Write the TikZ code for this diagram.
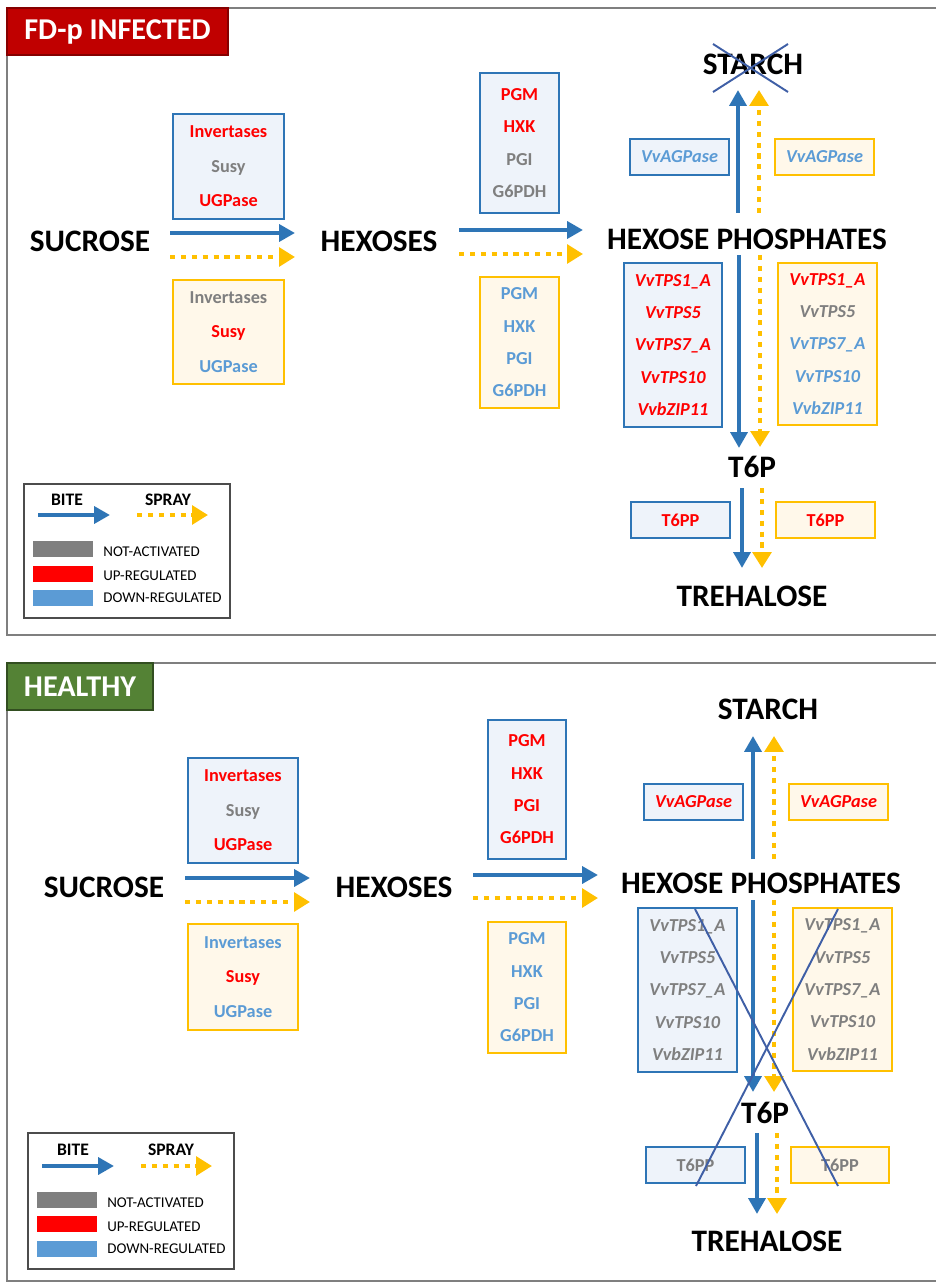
\documentclass[tikz,border=0pt]{standalone}
\usepackage{fontspec}
\setmainfont{Carlito}
\usetikzlibrary{arrows.meta}

\definecolor{bitecol}{HTML}{2E75B6}
\definecolor{spraycol}{HTML}{FFC000}
\definecolor{upcol}{HTML}{FF0000}
\definecolor{nacol}{HTML}{7F7F7F}
\definecolor{downcol}{HTML}{5B9BD5}
\definecolor{bitefill}{HTML}{EEF3FA}
\definecolor{sprayfill}{HTML}{FFF8EA}
\definecolor{crosscol}{HTML}{3F5FA6}
\definecolor{infred}{HTML}{C00000}
\definecolor{healthgreen}{HTML}{548235}
\definecolor{framecol}{HTML}{7F7F7F}

\newcommand{\upreg}[1]{\textcolor{upcol}{#1}}
\newcommand{\notact}[1]{\textcolor{nacol}{#1}}
\newcommand{\downreg}[1]{\textcolor{downcol}{#1}}

\begin{document}
\begin{tikzpicture}[
 x=0.02cm, y=-0.02cm,
 metab/.style={inner sep=0pt, font=\fontsize{17.8}{20}\selectfont\bfseries},
 bitebox/.style={draw=bitecol, fill=bitefill, line width=1.1pt, align=center, inner sep=0pt,
   font=\fontsize{10.4}{18.4}\selectfont\bfseries},
 spraybox/.style={bitebox, draw=spraycol, fill=sprayfill},
 invbox/.style={font=\fontsize{10.4}{19.6}\selectfont\bfseries},
 bite/.style={draw=bitecol, line width=2.8pt, -{Triangle[length=9pt,width=9.5pt]}},
 spray/.style={draw=spraycol, line width=2.8pt, dash pattern=on 2.9pt off 3.3pt,
   -{Triangle[length=9pt,width=10.5pt]}},
 cross/.style={draw=crosscol, line width=1.1pt},
 frame/.style={draw=framecol, line width=0.9pt},
 title/.style={text=white, inner sep=0pt, line width=0.6pt, font=\fontsize{17.2}{20}\selectfont\bfseries,
   minimum height=0.94cm},
 legbox/.style={draw=black!70, fill=white, line width=0.9pt},
 swatch/.style={minimum width=1.2cm, minimum height=0.32cm, inner sep=0pt},
 legtext/.style={anchor=west, inner sep=0pt, font=\fontsize{8.5}{10}\selectfont},
 leghead/.style={inner sep=0pt, font=\fontsize{10}{12}\selectfont\bfseries}
]
\useasboundingbox (0,0) rectangle (936,1283);

% ---------------- FD-p infected ----------------
\draw [frame] (936,8) -- (7,8) -- (7,635) -- (936,635);
\node (title1) [title, fill=infred, draw=infred!70!black, minimum width=4.42cm] at (117.5,31.5) {FD-p INFECTED};

\node (suc1) [metab] at (90,241) {SUCROSE};
\node (hex1) [metab] at (379,241) {HEXOSES};
\node (hp1) [metab] at (747,239) {HEXOSE PHOSPHATES};
\node (st1) [metab] at (753,64) {STARCH};
\node (t6p1) [metab] at (752,467) {T6P};
\node (tre1) [metab] at (752,596) {TREHALOSE};

\node (inv-bite1) [bitebox, invbox, minimum width=2.22cm, minimum height=2.1cm] at (228.5,166.5)
 {\upreg{Invertases}\\\notact{Susy}\\\upreg{UGPase}};
\node (inv-spray1) [spraybox, invbox, minimum width=2.22cm, minimum height=2.08cm] at (228.5,332)
 {\notact{Invertases}\\\upreg{Susy}\\\downreg{UGPase}};
\node (pgm-bite1) [bitebox, minimum width=1.58cm, minimum height=2.8cm] at (519.5,143)
 {\upreg{PGM}\\\upreg{HXK}\\\notact{PGI}\\\notact{G6PDH}};
\node (pgm-spray1) [spraybox, minimum width=1.58cm, minimum height=2.62cm] at (519.5,342.5)
 {\downreg{PGM}\\\downreg{HXK}\\\downreg{PGI}\\\downreg{G6PDH}};
\node (agp-bite1) [bitebox, minimum width=1.98cm, minimum height=0.72cm] at (679.5,157)
 {\itshape\downreg{VvAGPase}};
\node (agp-spray1) [spraybox, minimum width=1.98cm, minimum height=0.72cm] at (824.5,157)
 {\itshape\downreg{VvAGPase}};
\node (tps-bite1) [bitebox, minimum width=1.96cm, minimum height=3.28cm] at (673,345)
 {\itshape\upreg{VvTPS1\_A}\\\itshape\upreg{VvTPS5}\\\itshape\upreg{VvTPS7\_A}\\
  \itshape\upreg{VvTPS10}\\\itshape\upreg{VvbZIP11}};
\node (tps-spray1) [spraybox, minimum width=1.98cm, minimum height=3.24cm] at (827.5,344)
 {\itshape\upreg{VvTPS1\_A}\\\itshape\notact{VvTPS5}\\\itshape\downreg{VvTPS7\_A}\\
  \itshape\downreg{VvTPS10}\\\itshape\downreg{VvbZIP11}};
\node (t6pp-bite1) [bitebox, minimum width=1.98cm, minimum height=0.72cm] at (680.5,520) {\upreg{T6PP}};
\node (t6pp-spray1) [spraybox, minimum width=1.98cm, minimum height=0.72cm] at (825.5,520) {\upreg{T6PP}};

\draw [bite] ([shift={(80,-8)}]suc1.center) -- ([shift={(-84,-8)}]hex1.center);
\draw [spray] ([shift={(80,16)}]suc1.center) -- ([shift={(-84,16)}]hex1.center);
\draw [bite] ([shift={(80,-11)}]hex1.center) -- ([shift={(-164,-9)}]hp1.center);
\draw [spray] ([shift={(80,13)}]hex1.center) -- ([shift={(-164,15)}]hp1.center);
\draw [bite] ([shift={(-9,-26)}]hp1.center) -- ([shift={(-15,26)}]st1.center);
\draw [spray] ([shift={(12,-26)}]hp1.center) -- ([shift={(6,26)}]st1.center);
\draw [bite] ([shift={(-8,16)}]hp1.center) -- ([shift={(-13,-19)}]t6p1.center);
\draw [spray] ([shift={(13,16)}]hp1.center) -- ([shift={(8,-20)}]t6p1.center);
\draw [bite] ([shift={(-10,21)}]t6p1.center) -- ([shift={(-10,-28)}]tre1.center);
\draw [spray] ([shift={(10,21)}]t6p1.center) -- ([shift={(10,-28)}]tre1.center);

% starch crossed out
\draw [cross] ([shift={(-40,-20)}]st1.center) -- ([shift={(35,28)}]st1.center);
\draw [cross] ([shift={(-40,28)}]st1.center) -- ([shift={(35,-20)}]st1.center);

% legend
\node (leg1) [legbox, minimum width=4.12cm, minimum height=2.68cm] at (127,551) {};
\node (bite-lbl1) [leghead] at (67,500) {BITE};
\node (spray-lbl1) [leghead] at (168,500) {SPRAY};
\draw [bite] (38,515) -- (110,515);
\draw [spray] (137,515) -- (208,515);
\node (na-sw1) [swatch, fill=nacol] at (63,549) {};
\node (up-sw1) [swatch, fill=upcol] at (63,573.5) {};
\node (dn-sw1) [swatch, fill=downcol] at (63,598) {};
\node (na-txt1) [legtext] at (103,552) {NOT-ACTIVATED};
\node (up-txt1) [legtext] at (103,576) {UP-REGULATED};
\node (dn-txt1) [legtext] at (103,598) {DOWN-REGULATED};

% ---------------- healthy ----------------
\draw [frame] (936,663) -- (7,663) -- (7,1281) -- (936,1281);
\node (title2) [title, fill=healthgreen, draw=healthgreen!60!black, minimum width=2.92cm] at (80,686.5) {HEALTHY};

\node (suc2) [metab] at (104,887) {SUCROSE};
\node (hex2) [metab] at (394,887) {HEXOSES};
\node (hp2) [metab] at (761,883) {HEXOSE PHOSPHATES};
\node (st2) [metab] at (768,709) {STARCH};
\node (t6p2) [metab] at (765,1113) {T6P};
\node (tre2) [metab] at (767,1241) {TREHALOSE};

\node (inv-bite2) [bitebox, invbox, minimum width=2.2cm, minimum height=2.1cm] at (243,810.5)
 {\upreg{Invertases}\\\notact{Susy}\\\upreg{UGPase}};
\node (inv-spray2) [spraybox, invbox, minimum width=2.2cm, minimum height=2.12cm] at (243,977)
 {\downreg{Invertases}\\\upreg{Susy}\\\downreg{UGPase}};
\node (pgm-bite2) [bitebox, minimum width=1.56cm, minimum height=2.78cm] at (527,789.5)
 {\upreg{PGM}\\\upreg{HXK}\\\upreg{PGI}\\\upreg{G6PDH}};
\node (pgm-spray2) [spraybox, minimum width=1.56cm, minimum height=2.62cm] at (527,987.5)
 {\downreg{PGM}\\\downreg{HXK}\\\downreg{PGI}\\\downreg{G6PDH}};
\node (agp-bite2) [bitebox, minimum width=1.98cm, minimum height=0.72cm] at (693.5,802)
 {\itshape\upreg{VvAGPase}};
\node (agp-spray2) [spraybox, minimum width=1.98cm, minimum height=0.72cm] at (838.5,802)
 {\itshape\upreg{VvAGPase}};
\node (tps-bite2) [bitebox, minimum width=1.98cm, minimum height=3.28cm] at (687.5,990)
 {\itshape\notact{VvTPS1\_A}\\\itshape\notact{VvTPS5}\\\itshape\notact{VvTPS7\_A}\\
  \itshape\notact{VvTPS10}\\\itshape\notact{VvbZIP11}};
\node (tps-spray2) [spraybox, minimum width=1.98cm, minimum height=3.26cm] at (842.5,989.5)
 {\itshape\notact{VvTPS1\_A}\\\itshape\notact{VvTPS5}\\\itshape\notact{VvTPS7\_A}\\
  \itshape\notact{VvTPS10}\\\itshape\notact{VvbZIP11}};
\node (t6pp-bite2) [bitebox, minimum width=1.98cm, minimum height=0.72cm] at (695.5,1165) {\notact{T6PP}};
\node (t6pp-spray2) [spraybox, minimum width=1.96cm, minimum height=0.72cm] at (840,1165) {\notact{T6PP}};

\draw [bite] ([shift={(81,-9)}]suc2.center) -- ([shift={(-84,-9)}]hex2.center);
\draw [spray] ([shift={(81,15)}]suc2.center) -- ([shift={(-84,15)}]hex2.center);
\draw [bite] ([shift={(79,-12)}]hex2.center) -- ([shift={(-163,-8)}]hp2.center);
\draw [spray] ([shift={(79,11)}]hex2.center) -- ([shift={(-163,15)}]hp2.center);
\draw [bite] ([shift={(-8,-24)}]hp2.center) -- ([shift={(-15,27)}]st2.center);
\draw [spray] ([shift={(13,-24)}]hp2.center) -- ([shift={(6,27)}]st2.center);
\draw [bite] ([shift={(-8,17)}]hp2.center) -- ([shift={(-12,-21)}]t6p2.center);
\draw [spray] ([shift={(13,17)}]hp2.center) -- ([shift={(9,-21)}]t6p2.center);
\draw [bite] ([shift={(-8,20)}]t6p2.center) -- ([shift={(-10,-27)}]tre2.center);
\draw [spray] ([shift={(12,20)}]t6p2.center) -- ([shift={(10,-27)}]tre2.center);

% trehalose branch crossed out
\draw [cross] ([shift={(-70,-204)}]t6p2.center) -- ([shift={(73,73)}]t6p2.center);
\draw [cross] ([shift={(73,-204)}]t6p2.center) -- ([shift={(-69,73)}]t6p2.center);

% legend
\node (leg2) [legbox, minimum width=4.12cm, minimum height=2.72cm] at (131,1201) {};
\node (bite-lbl2) [leghead] at (73,1150) {BITE};
\node (spray-lbl2) [leghead] at (171,1150) {SPRAY};
\draw [bite] (42,1166) -- (114,1166);
\draw [spray] (141,1166) -- (212,1166);
\node (na-sw2) [swatch, fill=nacol] at (67,1200) {};
\node (up-sw2) [swatch, fill=upcol] at (67,1224) {};
\node (dn-sw2) [swatch, fill=downcol] at (67,1249) {};
\node (na-txt2) [legtext] at (107,1203) {NOT-ACTIVATED};
\node (up-txt2) [legtext] at (107,1227) {UP-REGULATED};
\node (dn-txt2) [legtext] at (107,1249) {DOWN-REGULATED};
\end{tikzpicture}
\end{document}
